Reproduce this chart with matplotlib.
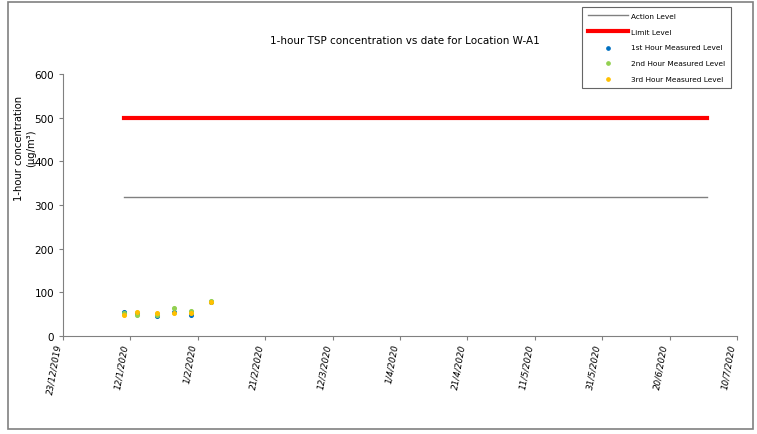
import matplotlib
matplotlib.use("Agg")
import matplotlib.pyplot as plt
import matplotlib.dates as mdates
from matplotlib.patches import Rectangle
import pandas as pd

# measurement dates and 1-hour TSP readings (ug/m3)
dates = pd.to_datetime(["2020-01-10", "2020-01-14", "2020-01-20",
                        "2020-01-25", "2020-01-30", "2020-02-05"])
hour1 = [55, 53, 45, 55, 48, 77]
hour2 = [52, 48, 48, 63, 58, 80]
hour3 = [48, 55, 52, 52, 53, 78]

line_dates = pd.to_datetime(["2020-01-10", "2020-07-01"])
action_level = [318, 318]
limit_level = [500, 500]

tick_dates = pd.date_range("2019-12-23", "2020-07-10", freq="20D")

fig = plt.figure(figsize=(7.57, 4.35), dpi=100)
fig.patch.set_facecolor("white")

# grey frame around the whole chart
fig.add_artist(Rectangle((8 / 757, 1 - 430 / 435), 745 / 757, 427 / 435,
                         transform=fig.transFigure, fill=False,
                         edgecolor="#808080", linewidth=1.2))

ax = fig.add_axes([63 / 757, 1 - 337 / 435, 674 / 757, 262 / 435])

ax.plot(line_dates, action_level, color="#808080", linewidth=1, label="Action Level")
ax.plot(line_dates, limit_level, color="#ff0000", linewidth=3, label="Limit Level")
ax.scatter(dates, hour1, s=7, color="#0070c0", label="1st Hour Measured Level", zorder=3)
ax.scatter(dates, hour2, s=7, color="#92d050", label="2nd Hour Measured Level", zorder=3)
ax.scatter(dates, hour3, s=7, color="#ffc000", label="3rd Hour Measured Level", zorder=3)

ax.set_xlim(tick_dates[0], tick_dates[-1])
ax.set_ylim(0, 600)
ax.set_yticks(range(0, 601, 100))
ax.set_xticks(tick_dates)
ax.xaxis.set_major_formatter(mdates.DateFormatter("%-d/%-m/%Y"))
for lbl in ax.get_xticklabels():
    lbl.set_rotation(80)
    lbl.set_ha("right")
    lbl.set_va("top")
    lbl.set_fontstyle("italic")
    lbl.set_fontsize(6.3)
ax.tick_params(axis="y", labelsize=7.5)
ax.tick_params(axis="both", length=3, color="#808080", direction="out")
ax.tick_params(axis="x", pad=2)

for side in ["top", "right"]:
    ax.spines[side].set_visible(False)
for side in ["left", "bottom"]:
    ax.spines[side].set_color("#808080")

fig.text(405 / 757, 1 - 41 / 435, "1-hour TSP concentration vs date for Location W-A1",
         ha="center", va="center", fontsize=7.5)
fig.text(19 / 757, 1 - 148 / 435, "1-hour concentration",
         ha="center", va="center", rotation=90, fontsize=7.2)
fig.text(31 / 757, 1 - 148 / 435, "(\u03bcg/m\u00b3)",
         ha="center", va="center", rotation=90, fontsize=7.2)

leg = fig.legend(loc="upper left", bbox_to_anchor=(582 / 757, 1 - 8 / 435),
                 fontsize=5.3, frameon=True, fancybox=False, edgecolor="#404040",
                 handlelength=5.5, labelspacing=1.3, borderpad=0.8, markerscale=0.9,
                 handletextpad=0.4, borderaxespad=0)
leg.get_frame().set_linewidth(0.8)

fig.savefig("out.png", dpi=100)
